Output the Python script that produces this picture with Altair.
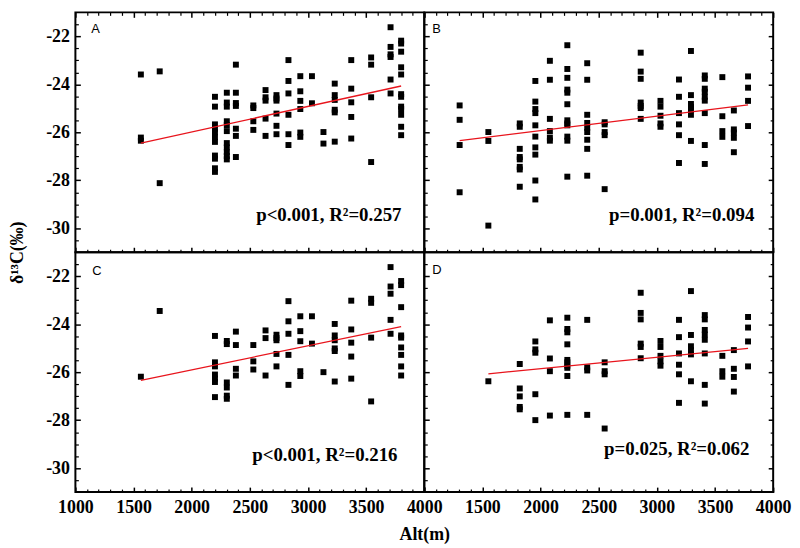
import altair as alt
import pandas as pd

W, H = 352, 242

X_MAJOR = [1000, 1500, 2000, 2500, 3000, 3500, 4000]
X_MINOR = [1100, 1200, 1300, 1400, 1600, 1700, 1800, 1900, 2100, 2200, 2300, 2400,
           2600, 2700, 2800, 2900, 3100, 3200, 3300, 3400, 3600, 3700, 3800, 3900]
Y_MAJOR = [-30, -28, -26, -24, -22]
Y_MINOR = [-30.5, -29.5, -29, -28.5, -27.5, -27, -26.5, -25.5, -25, -24.5,
           -23.5, -23, -22.5, -21.5]

AC_ALT = [1563, 1725, 2200, 2302, 2380, 2530, 2635, 2729, 2832, 2934, 3034, 3133,
          3230, 3372, 3543, 3710, 3801]
A_D13C = [
    [-23.59, -26.22, -26.35],
    [-23.46, -28.12],
    [-24.52, -24.93, -25.67, -25.85, -26.0, -26.2, -26.4, -26.97, -27.1, -27.5, -27.65],
    [-24.35, -24.76, -24.93, -25.54, -25.7, -25.95, -26.45, -26.63, -26.83, -26.99, -27.13],
    [-23.18, -24.35, -24.78, -24.9, -25.85, -26.15, -27.03],
    [-24.88, -24.99, -25.54, -25.9],
    [-24.24, -24.54, -24.68, -25.43, -26.15],
    [-24.45, -24.59, -24.68, -25.22, -25.73, -26.08],
    [-22.99, -23.86, -24.38, -25.27, -26.08, -26.53],
    [-23.66, -24.29, -24.69, -25.03, -26.01, -26.19],
    [-23.66, -24.79],
    [-25.99, -26.47],
    [-23.97, -24.45, -24.65, -25.06, -25.17, -26.39],
    [-22.99, -24.18, -24.75, -25.36, -26.26],
    [-22.88, -23.18, -24.54, -27.24],
    [-21.62, -22.44, -22.75, -22.86, -23.8, -24.38],
    [-22.18, -22.3, -22.64, -23.29, -23.59, -24.41, -24.52, -24.93, -25.03, -25.27, -25.77, -26.12],
]
C_D13C = [
    [-26.19],
    [-23.45],
    [-24.49, -25.59, -25.76, -26.1, -26.27, -26.41, -27.04],
    [-24.7, -24.83, -26.43, -26.64, -26.98, -27.11],
    [-24.31, -24.87, -25.86, -26.14],
    [-24.87, -25.55, -25.89],
    [-24.26, -24.58, -26.14],
    [-24.44, -24.58, -24.67, -25.24, -25.76],
    [-23.04, -23.88, -24.4, -25.28, -26.53],
    [-23.67, -24.29, -24.71, -25.96, -26.16],
    [-23.67, -24.81],
    [-26.0],
    [-23.99, -24.47, -24.67, -25.01, -25.12, -26.39],
    [-23.02, -24.22, -24.77, -25.35, -26.27],
    [-22.94, -23.11, -24.56, -27.22],
    [-21.62, -22.43, -22.73, -23.82, -24.4],
    [-22.2, -22.37, -23.29, -24.47, -24.56, -24.97, -25.28, -25.76, -26.14],
]

BD_ALT = [1304, 1551, 1821, 1955, 2080, 2230, 2401, 2551, 2861, 3031, 3190, 3293,
          3412, 3563, 3662, 3784]
B_D13C = [
    [-24.88, -25.48, -26.53, -28.5],
    [-25.99, -26.36, -29.89],
    [-25.63, -25.77, -26.69, -27.03, -27.13, -27.44, -27.55, -28.27],
    [-23.86, -24.72, -25.03, -25.2, -25.71, -26.18, -26.63, -26.93, -28.01, -28.8],
    [-23.02, -23.81, -25.44, -25.95, -26.22, -26.35],
    [-22.37, -23.36, -23.73, -24.22, -24.35, -24.83, -25.5, -25.63, -25.71, -26.18, -26.35, -27.85],
    [-23.12, -23.81, -25.27, -25.61, -25.81, -25.99, -26.31, -26.69, -27.81],
    [-25.58, -25.67, -25.99, -26.12, -28.37],
    [-22.68, -23.47, -23.77, -24.76, -24.9, -24.99, -25.44],
    [-24.69, -24.93, -25.31, -25.63, -25.77],
    [-23.8, -24.52, -25.2, -25.67, -26.12, -27.28],
    [-22.61, -24.45, -24.82, -24.95, -25.06, -25.27, -26.36],
    [-23.63, -23.77, -24.18, -24.31, -24.52, -24.68, -25.2, -26.53, -27.32],
    [-23.7, -25.33, -25.95, -26.19],
    [-25.09, -25.88, -26.01, -26.23, -26.83],
    [-23.67, -24.14, -24.69, -25.74],
]
D_D13C = [
    [],
    [-26.38],
    [-25.66, -26.68, -27.01, -27.45, -27.55],
    [-24.72, -25.05, -25.19, -26.92, -28.0],
    [-23.84, -25.43, -25.96, -27.81],
    [-23.73, -24.2, -24.34, -24.84, -25.49, -25.59, -25.73, -25.82, -26.16, -27.78],
    [-23.82, -25.8, -25.93, -27.78],
    [-25.59, -25.96, -26.09, -28.35],
    [-22.69, -23.53, -23.8, -24.81, -24.95, -25.42],
    [-24.7, -24.95, -25.32, -25.55, -25.73],
    [-23.82, -24.54, -25.22, -25.69, -26.09, -27.28],
    [-22.62, -24.45, -24.92, -25.08, -25.26, -26.38],
    [-23.62, -23.8, -24.24, -24.43, -24.65, -25.22, -26.53, -27.31],
    [-25.32, -25.96, -26.19],
    [-25.08, -25.86, -26.2, -26.81],
    [-23.7, -24.14, -24.72, -25.76],
]

FIT_A_X, FIT_A_Y = [1563, 3801], [-26.45, -24.07]
FIT_B_X, FIT_B_Y = [1304, 3784], [-26.35, -24.86]
FIT_C_X, FIT_C_Y = [1563, 3801], [-26.34, -24.10]
FIT_D_X, FIT_D_Y = [1551, 3784], [-26.07, -25.01]

LETTERS = ["A", "B", "C", "D"]
STATS = ["p<0.001, R\u00b2=0.257", "p=0.001, R\u00b2=0.094",
         "p<0.001, R\u00b2=0.216", "p=0.025, R\u00b2=0.062"]
X_TITLE = "Alt(m)"
Y_TITLE = "\u03b4\u00b9\u00b3C(\u2030)"

SERIF = "Liberation Serif"
LBL = dict(labelFont=SERIF, labelFontWeight="bold", labelFontSize=18, labelColor="black")
TTL = dict(titleFont=SERIF, titleFontWeight="bold", titleFontSize=18, titleColor="black")


def panel(alts, vals, fx, fy, letter, stat, stat_xy, letter_xy,
          left_labels, bottom_labels, top, right, x_title=False, y_title=False,
          hide_first_x=False):
    pts = pd.DataFrame([(a, v) for a, col in zip(alts, vals) for v in col],
                       columns=["alt", "d13c"])
    fit = pd.DataFrame({"alt": fx, "d13c": fy})
    xs = alt.Scale(domain=[1000, 4000], nice=False, zero=False)
    ys = alt.Scale(domain=[-31, -21], nice=False, zero=False)

    bkw = dict(orient="bottom", values=X_MAJOR, tickSize=5, offset=-5, tickWidth=1.5,
               labels=bottom_labels, labelPadding=7, labelFlush=False, labelOverlap=False,
               labelExpr="'' + datum.value", **LBL)
    if hide_first_x:
        bkw["labelExpr"] = "datum.value == 1000 ? '' : '' + datum.value"
    if x_title:
        bkw.update(title=X_TITLE, titleX=W, titleY=53, titleAlign="center",
                   titleBaseline="alphabetic", **TTL)
    else:
        bkw["title"] = None
    bottom_major = alt.Axis(**bkw)
    bottom_minor = alt.Axis(orient="bottom", values=X_MINOR, tickSize=3, offset=-3,
                            tickWidth=1.2, labels=False, title=None)

    lkw = dict(orient="left", values=Y_MAJOR, tickSize=5, offset=-5, tickWidth=1.5,
               labels=left_labels, labelPadding=6, labelOverlap=False,
               labelExpr="'' + datum.value", **LBL)
    if y_title:
        lkw.update(title=Y_TITLE, titleX=-63, titleY=H, titleAngle=270,
                   titleAlign="center", titleBaseline="middle", **TTL)
    else:
        lkw["title"] = None
    left_major = alt.Axis(**lkw)
    left_minor = alt.Axis(orient="left", values=Y_MINOR, tickSize=3, offset=-3,
                          tickWidth=1.2, labels=False, title=None)

    top_major = alt.Axis(orient="top", values=X_MAJOR, tickSize=5, offset=-5,
                         tickWidth=1.5, labels=False, title=None) if top else None
    top_minor = alt.Axis(orient="top", values=X_MINOR, tickSize=3, offset=-3,
                         tickWidth=1.2, labels=False, title=None) if top else None
    right_major = alt.Axis(orient="right", values=Y_MAJOR, tickSize=5, offset=-5,
                           tickWidth=1.5, labels=False, title=None) if right else None
    right_minor = alt.Axis(orient="right", values=Y_MINOR, tickSize=3, offset=-3,
                           tickWidth=1.2, labels=False, title=None) if right else None

    points = alt.Chart(pts).mark_square(size=36, color="black", opacity=1).encode(
        x=alt.X("alt:Q", scale=xs, axis=bottom_major),
        y=alt.Y("d13c:Q", scale=ys, axis=left_major),
    )
    minor1 = alt.Chart(fit).mark_point(opacity=0).encode(
        x=alt.X("alt:Q", scale=xs, axis=bottom_minor),
        y=alt.Y("d13c:Q", scale=ys, axis=left_minor),
    )
    line = alt.Chart(fit).mark_line(color="#e8141c", strokeWidth=1.3).encode(
        x=alt.X("alt:Q", scale=xs, axis=top_major),
        y=alt.Y("d13c:Q", scale=ys, axis=right_major),
    )
    minor2 = alt.Chart(fit).mark_point(opacity=0).encode(
        x=alt.X("alt:Q", scale=xs, axis=top_minor),
        y=alt.Y("d13c:Q", scale=ys, axis=right_minor),
    )
    stat_txt = alt.Chart(pd.DataFrame({"t": [stat]})).mark_text(
        align="right", baseline="alphabetic", font=SERIF, fontWeight="bold",
        fontSize=19, color="black").encode(
        x=alt.value(stat_xy[0]), y=alt.value(stat_xy[1]), text="t:N")
    letter_txt = alt.Chart(pd.DataFrame({"t": [letter]})).mark_text(
        align="left", baseline="top", font="Liberation Sans", fontSize=13,
        color="black").encode(
        x=alt.value(letter_xy[0]), y=alt.value(letter_xy[1]), text="t:N")

    return alt.layer(points, minor1, line, minor2, stat_txt, letter_txt).resolve_axis(
        x="independent", y="independent").properties(width=W, height=H)


pA = panel(AC_ALT, A_D13C, FIT_A_X, FIT_A_Y, LETTERS[0], STATS[0], (W - 23, H - 32),
           (16, 11), True, False, True, False, y_title=True)
pB = panel(BD_ALT, B_D13C, FIT_B_X, FIT_B_Y, LETTERS[1], STATS[1], (W - 19, H - 32),
           (8, 11), False, False, True, True)
pC = panel(AC_ALT, C_D13C, FIT_C_X, FIT_C_Y, LETTERS[2], STATS[2], (W - 27, H - 31),
           (17, 13), True, True, False, False, x_title=True)
pD = panel(BD_ALT, D_D13C, FIT_D_X, FIT_D_Y, LETTERS[3], STATS[3], (W - 24, H - 37),
           (8, 12), False, True, False, True, hide_first_x=True)

chart = alt.concat(pA, pB, pC, pD, columns=2, spacing=0, bounds="flush").configure_view(
    stroke="black", strokeWidth=2
).configure_axis(
    grid=False, domain=False, tickColor="black",
).properties(padding={"left": 0, "top": 0, "right": 0, "bottom": 0})

chart.save("out.html", embed_options={"renderer": "svg", "actions": False})
